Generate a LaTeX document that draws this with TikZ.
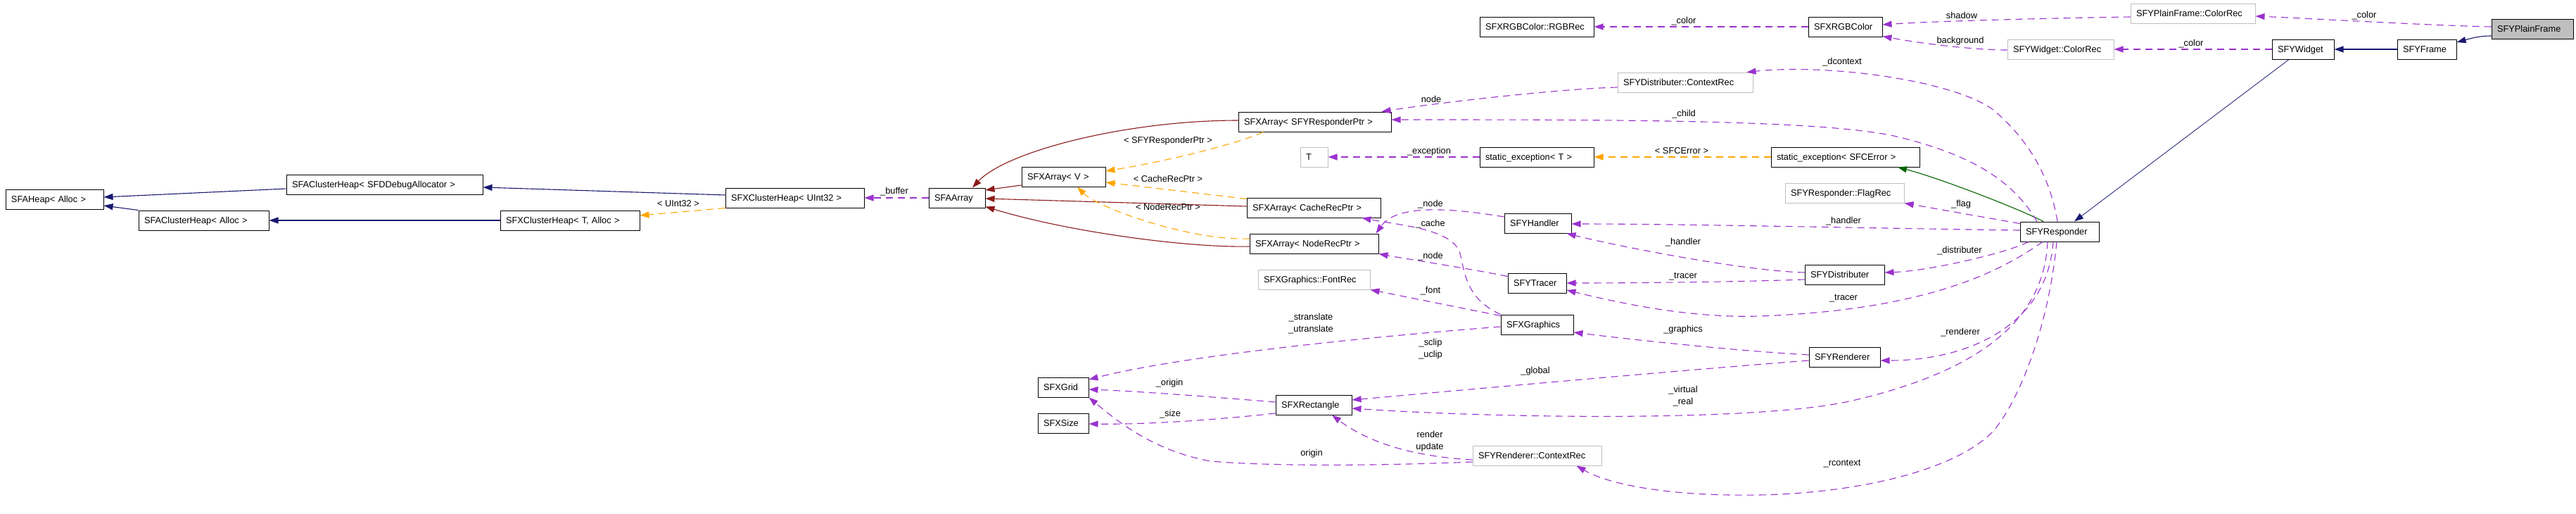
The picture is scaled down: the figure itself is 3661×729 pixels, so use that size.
\documentclass[tikz,border=0pt]{standalone}
\usepackage{fontspec}
\newfontfamily\dotfont{Liberation Sans}
\usetikzlibrary{arrows.meta}

\definecolor{dxblue}{HTML}{191970}
\definecolor{dxgreen}{HTML}{006400}
\definecolor{dxred}{HTML}{8B1A1A}
\definecolor{dxpurple}{HTML}{9A32CD}
\definecolor{dxorange}{HTML}{FFA500}
\definecolor{dxgray}{HTML}{BFBFBF}

\tikzset{
  cls/.style={draw=black, line width=1pt, minimum height=28pt, inner xsep=8pt, inner ysep=0pt,
    align=left, font=\dotfont\fontsize{12.8}{15}\selectfont, text height=9.5pt, text depth=0pt},
  nodoc/.style={cls, draw=dxgray},
  lbl/.style={font=\dotfont\fontsize{12.8}{17}\selectfont, inner sep=0pt, text height=9.5pt, text depth=0pt},
  lbltwo/.style={font=\dotfont\fontsize{12.8}{17}\selectfont, inner sep=0pt, align=center},
  pub/.style={draw=dxblue, line width=1.1pt, -{Triangle[length=13pt,width=9pt]}},
  prot/.style={pub, draw=dxgreen},
  priv/.style={pub, draw=dxred},
  use/.style={pub, draw=dxpurple, dash pattern=on 10pt off 7pt},
  tmpl/.style={pub, draw=dxorange, dash pattern=on 10pt off 7pt}
}

\begin{document}
\begin{tikzpicture}[x=1pt,y=-1pt]

		\path[fill=white] (0,0) rectangle (3661,729);
		\useasboundingbox (0,0) rectangle (3661,729);

		% classes
		\node[cls, text width=123pt] (heap) at (77.5,283) {SFAHeap< Alloc >};
		\node[cls, text width=263pt] (hcd) at (546.5,262) {SFAClusterHeap< SFDDebugAllocator >};
		\node[cls, text width=169pt] (hca) at (289.5,313) {SFAClusterHeap< Alloc >};
		\node[cls, text width=182pt] (hxt) at (810,313) {SFXClusterHeap< T, Alloc >};
		\node[cls, text width=181pt] (hxu) at (1129.5,281) {SFXClusterHeap< UInt32 >};
		\node[cls, text width=64pt] (arr) at (1360,281) {SFAArray};
		\node[cls, text width=103pt] (arrv) at (1511.5,251) {SFXArray< V >};
		\node[cls, text width=201pt] (arrR) at (1868.5,173) {SFXArray< SFYResponderPtr >};
		\node[nodoc, text width=23pt] (tT) at (1867.5,223) {T};
		\node[cls, text width=174pt] (arrC) at (1867,295) {SFXArray< CacheRecPtr >};
		\node[cls, text width=167pt] (arrN) at (1867.5,346) {SFXArray< NodeRecPtr >};
		\node[nodoc, text width=143pt] (fontrec) at (1867.5,397) {SFXGraphics::FontRec};
		\node[cls, text width=56pt] (grid) at (1511,550) {SFXGrid};
		\node[cls, text width=56pt] (size) at (1511,601) {SFXSize};
		\node[cls, text width=92pt] (rect) at (1867,575) {SFXRectangle};
		\node[nodoc, text width=167pt] (rctx) at (2184.5,647) {SFYRenderer::ContextRec};
		\node[cls, text width=87pt] (gfx) at (2184.5,461) {SFXGraphics};
		\node[cls, text width=67pt] (tracer) at (2184.5,402) {SFYTracer};
		\node[cls, text width=79pt] (handler) at (2185.5,317) {SFYHandler};
		\node[cls, text width=146pt] (rgbrec) at (2184,38) {SFXRGBColor::RGBRec};
		\node[cls, text width=146pt] (stT) at (2184,223) {static\_exception< T >};
		\node[nodoc, text width=176pt] (dctx) at (2395,117) {SFYDistributer::ContextRec};
		\node[cls, text width=89pt] (rgb) at (2622.5,38) {SFXRGBColor};
		\node[cls, text width=195pt] (stE) at (2622.5,223) {static\_exception< SFCError >};
		\node[nodoc, text width=153pt] (flag) at (2621.5,274) {SFYResponder::FlagRec};
		\node[cls, text width=97pt] (dist) at (2621.5,390) {SFYDistributer};
		\node[cls, text width=85pt] (rend) at (2621.5,507) {SFYRenderer};
		\node[nodoc, text width=135pt] (wrec) at (2928.5,70) {SFYWidget::ColorRec};
		\node[nodoc, text width=161pt] (pfrec) at (3116.5,19) {SFYPlainFrame::ColorRec};
		\node[cls, text width=96pt] (resp) at (2927,329) {SFYResponder};
		\node[cls, text width=72pt] (widget) at (3273,70) {SFYWidget};
		\node[cls, text width=68pt] (frame) at (3449,70) {SFYFrame};
		\node[cls, fill=dxgray, text width=100pt] (pframe) at (3599,41) {SFYPlainFrame};

		% inheritance
		\draw[pub] ([shift={(0,6)}]hcd.west) -- ([shift={(0,-3)}]heap.east);
		\draw[pub] (hca.north west) -- ([shift={(0,9)}]heap.east);
		\draw[pub] ([shift={(0,-4)}]hxu.west) -- ([shift={(0,4)}]hcd.east);
		\draw[pub] (hxt.west) -- (hca.east);
		\draw[pub] (frame.west) -- (widget.east);
		\draw[pub] ([shift={(0,10)}]pframe.west) .. controls +(-20,0) and +(15,-4) .. ([shift={(0,-10)}]frame.east);
		\draw[pub, line width=0.8pt] ([shift={(-20,0)}]widget.south) -- ([shift={(21,0)}]resp.north);
		\draw[prot] ([shift={(-23,0)}]resp.north) .. controls (2870,297) and (2760,254) .. ([shift={(74.5,0)}]stE.south);
		\draw[priv] ([shift={(0,12)}]arrv.west) -- ([shift={(0,-11)}]arr.east);
		\draw[priv] ([shift={(0,-2)}]arrR.west) .. controls (1600,171) and (1430,215) .. ([shift={(22,0)}]arr.north);
		\draw[priv] ([shift={(0,-2)}]arrC.west) -- ([shift={(0,1)}]arr.east);
		\draw[priv] ([shift={(0,4)}]arrN.west) .. controls (1690,352) and (1520,330) .. ([shift={(0,-2)}]arr.south east);

		% template instances
		\draw[tmpl] (hxu.south west) -- ([shift={(0,-7)}]hxt.east);
		\draw[tmpl] ([shift={(-73.5,0)}]arrR.south) .. controls (1770,200) and (1680,225) .. ([shift={(0,-8)}]arrv.east);
		\draw[tmpl] ([shift={(0,2)}]arrC.north west) -- ([shift={(0,8)}]arrv.east);
		\draw[tmpl] ([shift={(0,-7)}]arrN.west) .. controls (1690,342) and (1560,295) .. ([shift={(19.5,0)}]arrv.south);
		\draw[tmpl] (stE.west) -- (stT.east);

		% members
		\draw[use] (arr.west) -- (hxu.east);
		\draw[use] (rgb.west) -- (rgbrec.east);
		\draw[use] ([shift={(0,5)}]pfrec.west) .. controls (2900,26) and (2750,30) .. ([shift={(0,-3)}]rgb.east);
		\draw[use] ([shift={(0,1)}]wrec.west) .. controls (2800,71) and (2720,60) .. ([shift={(0,-1)}]rgb.south east);
		\draw[use] ([shift={(0,-3)}]pframe.west) .. controls (3450,36) and (3300,27) .. ([shift={(0,4)}]pfrec.east);
		\draw[use] (widget.west) -- (wrec.east);
		\draw[use] ([shift={(0,7)}]dctx.west) .. controls (2220,126) and (2050,145) .. ([shift={(-14,0)}]arrR.north east);
		\draw[use] ([shift={(-32,0)}]resp.north) .. controls (2860,255) and (2800,220) .. (2700,195) .. controls (2600,170) and (2300,170) .. ([shift={(0,-3)}]arrR.east);
		\draw[use] ([shift={(-3,0)}]resp.north) .. controls (2915,260) and (2890,205) .. (2834,157) .. controls (2780,115) and (2600,90) .. ([shift={(-9,0)}]dctx.north east);
		\draw[use] (stT.west) -- (tT.east);
		\draw[use] ([shift={(0,3)}]resp.north west) -- (flag.south east);
		\draw[use] ([shift={(0,-2)}]resp.west) .. controls (2700,325) and (2400,318) .. ([shift={(0,1)}]handler.east);
		\draw[use] ([shift={(0,-3)}]dist.west) .. controls (2480,385) and (2300,350) .. ([shift={(-7,0)}]handler.south east);
		\draw[use] ([shift={(-44,0)}]resp.south) .. controls (2850,360) and (2740,385) .. ([shift={(0,-3)}]dist.east);
		\draw[use] ([shift={(0,7)}]dist.west) .. controls (2450,401) and (2300,402) .. (tracer.east);
		\draw[use] ([shift={(-24,0)}]resp.south) .. controls (2850,380) and (2750,440) .. (2500,449) .. controls (2400,452) and (2300,430) .. ([shift={(0,10)}]tracer.east);
		\draw[use] ([shift={(0,2)}]gfx.north west) -- (fontrec.south east);
		\draw[use] ([shift={(0,5)}]tracer.north west) .. controls (2080,380) and (2000,368) .. (arrN.south east);
		\draw[use] ([shift={(0,-9)}]handler.west) .. controls (2060,295) and (1985,290) .. ([shift={(-4,0)}]arrN.north east);
		\draw[use] (gfx.north west) .. controls (2085,425) and (2082,390) .. (2075,360) .. controls (2065,325) and (1990,320) .. ([shift={(-27,0)}]arrC.south east);
		\draw[use] ([shift={(0,3)}]gfx.west) .. controls (1950,478) and (1680,505) .. ([shift={(0,-11)}]grid.east);
		\draw[use] ([shift={(0,-3)}]rend.west) .. controls (2450,497) and (2300,480) .. ([shift={(0,11)}]gfx.east);
		\draw[use] ([shift={(0,5)}]rend.west) .. controls (2400,525) and (2100,552) .. ([shift={(0,-7)}]rect.east);
		\draw[use] ([shift={(-17,0)}]resp.south) .. controls (2906,430) and (2850,520) .. (2628,570) .. controls (2500,598) and (2150,595) .. ([shift={(0,5)}]rect.east);
		\draw[use] ([shift={(-9,0)}]resp.south) .. controls (2910,460) and (2800,512) .. ([shift={(0,5)}]rend.east);
		\draw[use] ([shift={(-4,0)}]resp.south) .. controls (2910,480) and (2860,585) .. (2830,615) .. controls (2780,665) and (2650,700) .. (2500,703) .. controls (2380,705) and (2290,690) .. ([shift={(-36,0)}]rctx.south east);
		\draw[use] ([shift={(0,-4)}]rect.west) .. controls (1712,563) and (1623,556) .. ([shift={(0,3)}]grid.east);
		\draw[use] ([shift={(0,12)}]rect.west) .. controls (1712,598) and (1620,603) .. ([shift={(0,1)}]size.east);
		\draw[use] ([shift={(0,9)}]rctx.west) .. controls (1950,662) and (1800,662) .. (1720,655) .. controls (1640,640) and (1590,600) .. (grid.south east);
		\draw[use] ([shift={(0,6)}]rctx.west) .. controls (2000,648) and (1940,625) .. ([shift={(26,0)}]rect.south);

		% labels
		\node[lbl] (lbuffer) at (1271,271) {\_buffer};
		\node[lbl] (luint) at (964,289) {< UInt32 >};
		\node[lbl] (lrespptr) at (1660,199) {< SFYResponderPtr >};
		\node[lbl] (lcacheptr) at (1660,254) {< CacheRecPtr >};
		\node[lbl] (lnodeptr) at (1660,294) {< NodeRecPtr >};
		\node[lbl] (lsfcerror) at (2390,214) {< SFCError >};
		\node[lbl] (lrgbcolor) at (2393,29) {\_color};
		\node[lbl] (lshadow) at (2788,22) {shadow};
		\node[lbl] (lbackground) at (2786,57) {background};
		\node[lbl] (lpfcolor) at (3360,21) {\_color};
		\node[lbl] (lwcolor) at (3114,61) {\_color};
		\node[lbl] (lnode) at (2034,141) {node};
		\node[lbl] (lchild) at (2393,161) {\_child};
		\node[lbl] (ldcontext) at (2618,87) {\_dcontext};
		\node[lbl] (lexception) at (2031,214) {\_exception};
		\node[lbl] (lflag) at (2787,289) {\_flag};
		\node[lbl] (lhandlera) at (2620,313) {\_handler};
		\node[lbl] (lhandlerb) at (2392,343) {\_handler};
		\node[lbl] (ldistributer) at (2785,355) {\_distributer};
		\node[lbl] (ltracera) at (2392,391) {\_tracer};
		\node[lbl] (ltracerb) at (2620,422) {\_tracer};
		\node[lbl] (lfont) at (2033,412) {\_font};
		\node[lbl] (lnodeb) at (2033,363) {\_node};
		\node[lbl] (lnodea) at (2033,289) {\_node};
		\node[lbl] (lcache) at (2033,317) {\_cache};
		\node[lbltwo] (ltranslate) at (1863,460) {\_stranslate\\\_utranslate};
		\node[lbltwo] (lclip) at (2033,496) {\_sclip\\\_uclip};
		\node[lbl] (lgraphics) at (2392,467) {\_graphics};
		\node[lbl] (lglobal) at (2182,526) {\_global};
		\node[lbltwo] (lvirtual) at (2392,563) {\_virtual\\\_real};
		\node[lbl] (lrenderer) at (2786,471) {\_renderer};
		\node[lbl] (lrcontext) at (2618,657) {\_rcontext};
		\node[lbl] (lorigin) at (1662,543) {\_origin};
		\node[lbl] (lsize) at (1663,587) {\_size};
		\node[lbl] (lorigintwo) at (1864,643) {origin};
		\node[lbltwo] (lrender) at (2032,627) {render\\update};

\end{tikzpicture}
\end{document}
